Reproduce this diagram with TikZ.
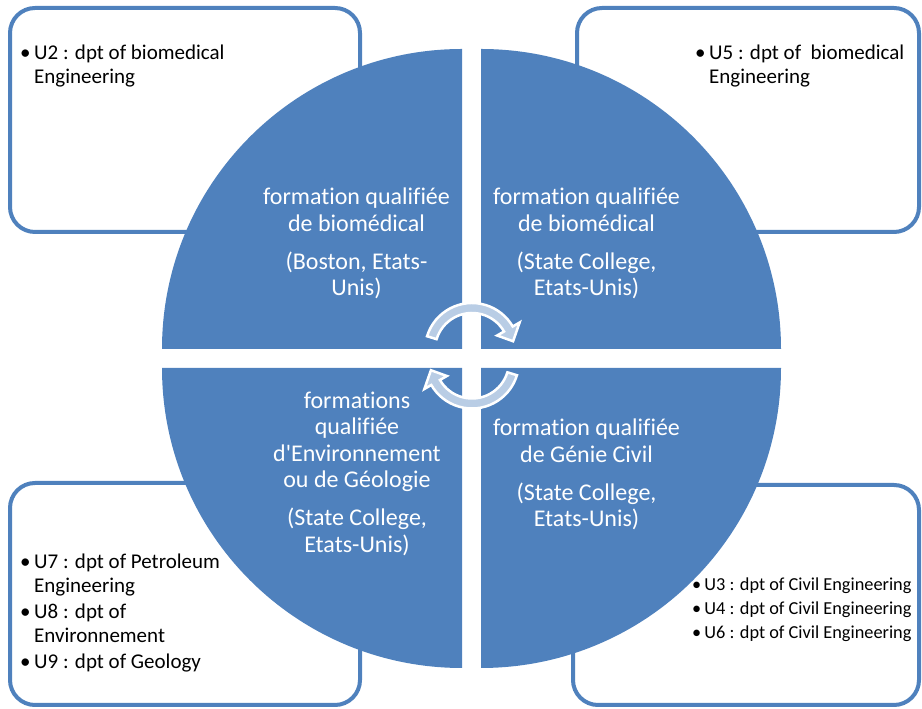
\documentclass[tikz,border=0pt]{standalone}
\usepackage{fontspec}
\setmainfont{Carlito}[Ligatures={TeXOff,CommonOff}]
\definecolor{officeblue}{RGB}{79,129,189}
\definecolor{arrowblue}{RGB}{185,205,229}
\begin{document}
\begin{tikzpicture}[x=1pt,y=1pt,
  boxframe/.style={draw=officeblue, line width=4pt, fill=white, rounded corners=25pt},
  quarter/.style={fill=officeblue},
  cyc/.style={fill=arrowblue, draw=white, line width=2.5pt},
  qtext/.style={text=white, align=center, font=\fontsize{24}{26.5}\selectfont, inner sep=0pt},
  btext/.style={text=black, anchor=west, inner sep=0pt, font=\fontsize{21}{24}\selectfont},
  stext/.style={text=black, anchor=west, inner sep=0pt, font=\fontsize{18.3}{24}\selectfont},
]
\useasboundingbox (0,0) rectangle (922,709);

% corner boxes
\path[boxframe] (10,477) rectangle (360,701);
\path[boxframe] (577,477) rectangle (919,701);
\path[boxframe] (10,4) rectangle (360,226);
\path[boxframe] (573,4) rectangle (919,224);

% quarters of the circle
\path[quarter] (462,360) -- ++(-300,0) arc[start angle=180,end angle=90,radius=300] -- cycle;
\path[quarter] (481,360) -- ++(0,300) arc[start angle=90,end angle=0,radius=300] -- cycle;
\path[quarter] (462,341) -- ++(-300,0) arc[start angle=180,end angle=270,radius=300] -- cycle;
\path[quarter] (481,341) -- ++(300,0) arc[start angle=0,end angle=-90,radius=300] -- cycle;

% cycle arrows
\begin{scope}[shift={(472,359)}]
\path[cyc] (163:47) arc[start angle=163,end angle=30,radius=47] -- (30:55) -- (12:42) -- (30:29) -- (30:37) arc[start angle=30,end angle=163,radius=37] -- cycle;
\end{scope}
\begin{scope}[shift={(472,347.5)}]
\path[cyc] (343:47) arc[start angle=343,end angle=210,radius=47] -- (210:55) -- (192:42) -- (210:29) -- (210:37) arc[start angle=210,end angle=343,radius=37] -- cycle;
\end{scope}

% quarter texts
\node[qtext] (qtl) at (356.5,465.5) {formation qualifiée\\de biomédical\\[11.5pt](Boston, Etats-\\Unis)};
\node[qtext] (qtr) at (586.5,465.5) {formation qualifiée\\de biomédical\\[11.5pt](State College,\\Etats-Unis)};
\node[qtext] (qbl) at (357,235.5) {formations\\qualifiée\\d'Environnement\\ou de Géologie\\[11.5pt](State College,\\Etats-Unis)};
\node[qtext] (qbr) at (586.5,234.5) {formation qualifiée\\de Génie Civil\\[11.5pt](State College,\\Etats-Unis)};

% box texts
\node[btext] (btl) at (20,642.5) {\begin{tabular}{@{}l@{\,}l@{}}\textbullet & U2 : dpt of biomedical\\ & Engineering\end{tabular}};
\node[btext] (btr) at (695,642.5) {\begin{tabular}{@{}l@{\,}l@{}}\textbullet & U5 : dpt of\ \ biomedical\\ & Engineering\end{tabular}};
\node[btext] (bbl) at (20,95.5) {\begin{tabular}{@{}l@{\,}l@{}}\textbullet & U7 : dpt of Petroleum\\ & Engineering\\[2pt] \textbullet & U8 : dpt of\\ & Environnement\\[2pt] \textbullet & U9 : dpt of Geology\end{tabular}};
\node[stext] (bbr) at (692,99) {\begin{tabular}{@{}l@{\,}l@{}}\textbullet & U3 : dpt of Civil Engineering\\ \textbullet & U4 : dpt of Civil Engineering\\ \textbullet & U6 : dpt of Civil Engineering\end{tabular}};
\end{tikzpicture}
\end{document}
